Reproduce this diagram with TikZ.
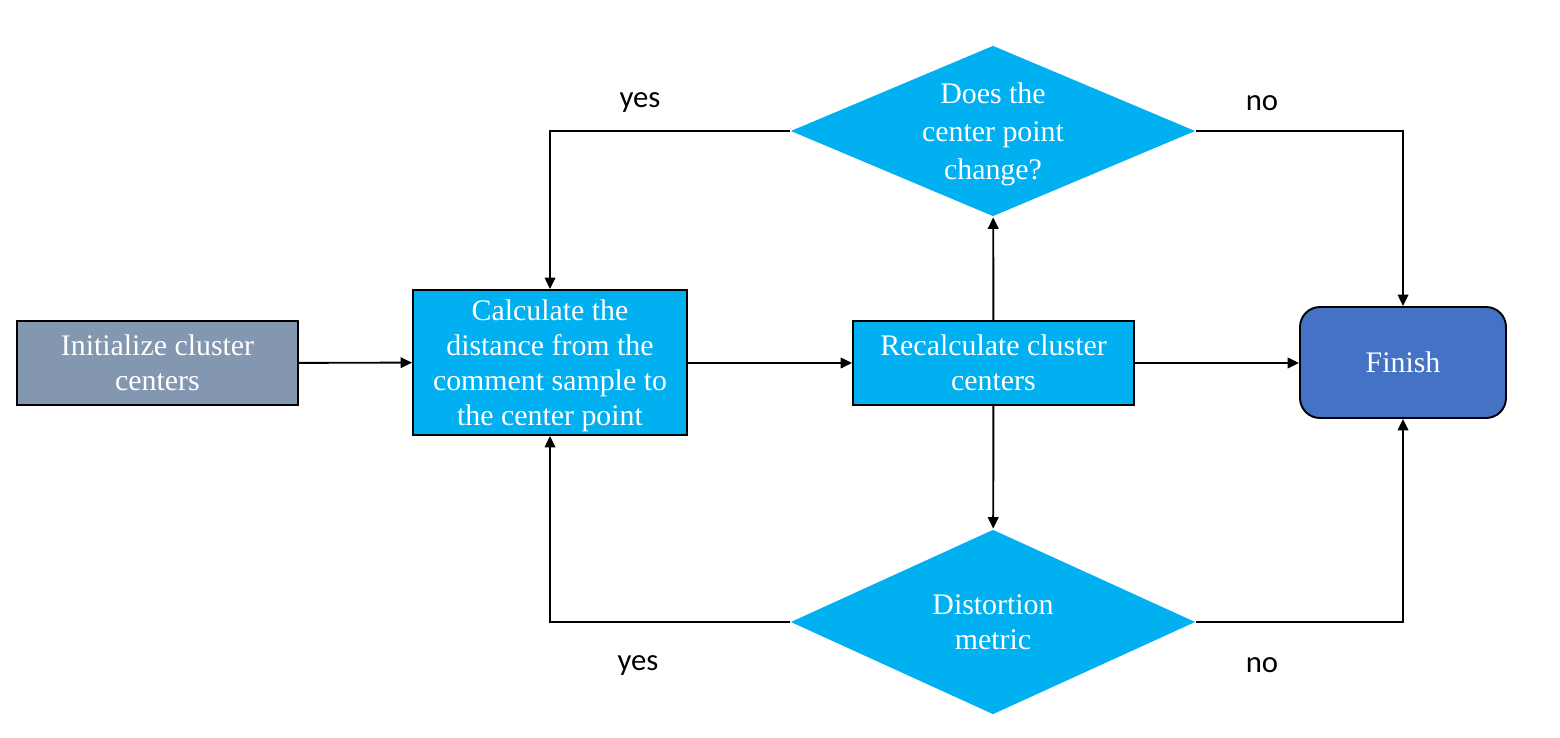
\documentclass[tikz,border=0pt]{standalone}
\usepackage{fontspec}
\setmainfont{Liberation Serif}
\newfontfamily\labelfont{Carlito}
\usetikzlibrary{shapes.geometric,arrows.meta}
\definecolor{initgray}{HTML}{8497B0}
\definecolor{stepblue}{HTML}{00B0F0}
\definecolor{finblue}{HTML}{4472C4}
\begin{document}
\begin{tikzpicture}[font=\fontsize{17}{20}\selectfont, line width=1.1pt,
    >={Triangle[length=6.5pt,width=6pt]},
    procbox/.style={draw=black, fill=stepblue, text=white, align=center,
      inner sep=0pt, text depth=0pt, minimum width=5.62cm, minimum height=1.68cm},
    decision/.style={diamond, fill=stepblue, text=white, align=center,
      inner sep=0pt, text depth=0pt, minimum width=8.1cm},
    branch/.style={font=\labelfont\fontsize{17.5}{20}\selectfont}]
  \useasboundingbox (0,0) rectangle (31.2,14.74);
  % process boxes on the middle row
  \node[procbox, fill=initgray] (init) at (3.15,7.48)
    {Initialize cluster\\centers};
  \node[procbox, minimum width=5.48cm, minimum height=2.9cm] (calc) at (11.0,7.49)
    {Calculate the\\distance from the\\comment sample to\\the center point};
  \node[procbox] (recalc) at (19.87,7.48) {Recalculate cluster\\centers};
  \node[procbox, fill=finblue, rounded corners=0.4cm, minimum width=4.12cm,
    minimum height=2.22cm] (finish) at (28.06,7.49) {Finish};
  % the two checks
  \node[decision, shape aspect=2.37, minimum height=3.42cm,
    font=\fontsize{17}{21.5}\selectfont] (change) at (19.86,12.12)
    {Does the\\center point\\change?};
  \node[decision, shape aspect=2.19, minimum height=3.7cm] (distort) at (19.86,2.3)
    {Distortion\\metric};
  % connectors
  \draw[->] (init) -- (calc);
  \draw[->] (calc.east |- recalc) -- (recalc);
  \draw[->] (recalc) -- (finish.west |- recalc);
  \draw[->] (recalc) -- (change);
  \draw[->] (recalc) -- (distort);
  \draw[->] (change.west) -| (calc.north);
  \draw[->] (change.east) -| (finish.north);
  \draw[->] (distort.west) -| (calc.south);
  \draw[->] (distort.east) -| (finish.south);
  % branch labels
  \node[branch] (yestop) at (12.8,12.68) {yes};
  \node[branch] (notop) at (25.24,12.68) {no};
  \node[branch] (yesbot) at (12.76,1.42) {yes};
  \node[branch] (nobot) at (25.24,1.44) {no};
\end{tikzpicture}
\end{document}
